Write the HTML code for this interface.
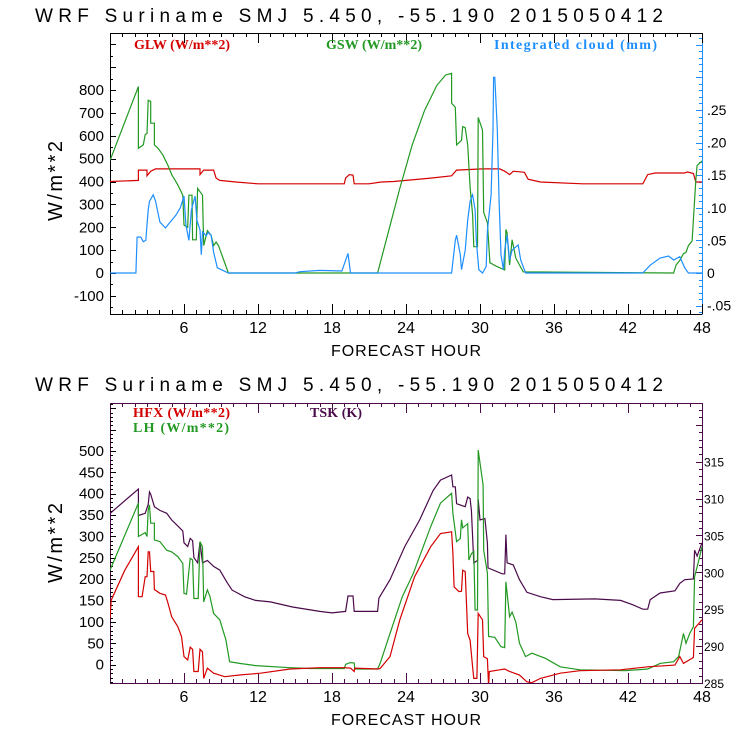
<!DOCTYPE html>
<html><head><meta charset="utf-8"><style>
html,body{margin:0;padding:0;background:#fff;}
svg{display:block;}
text{font-family:"Liberation Sans",sans-serif;}
.lg{font-family:"Liberation Serif",serif;font-weight:bold;font-size:14px;}
</style></head><body>
<svg id="c" width="740" height="740" xmlns="http://www.w3.org/2000/svg"></svg>
<script>
// ---- Top panel data (hours / values) ----
const gswHours=[0,2.3,2.3,2.7,2.85,3.0,3.1,3.3,3.3,3.6,3.6,3.9,4.3,4.7,5,5.5,5.9,6,6.3,6.4,6.65,6.7,7.0,7.1,7.5,7.6,7.9,8.2,8.4,8.6,8.8,9.6,21.7,22.5,23.5,24.5,25.5,26.5,27.2,27.7,27.7,28,28.1,28.5,28.6,28.8,29,29.2,29.4,29.5,29.8,29.85,30.2,30.3,30.6,30.8,31.3,32,32.1,32.2,32.4,32.6,32.9,33.5,45.7,45.9,46.2,46.5,46.7,46.9,47.2,47.5,47.6,48];
const gswValues=[492,815,545,560,605,610,755,750,655,655,560,545,515,470,430,385,340,210,200,340,340,145,145,370,340,120,185,165,120,135,120,0,0,165,370,560,710,820,865,873,742,725,560,580,640,635,560,375,255,115,115,680,625,265,220,45,30,13,190,175,35,145,65,5,0,35,55,85,90,120,140,405,470,490];
const glwHours=[0,2.3,2.3,3.0,3.0,3.3,3.7,7.3,7.3,7.6,8.4,8.6,8.9,10.2,12,19,19.1,19.4,19.7,19.8,21,22,23,26,27.7,28.1,30.2,31.6,32,32.4,32.7,33.6,33.9,34.9,38.3,43.2,43.6,44.2,46.6,46.8,47.3,47.5,48];
const glwValues=[400,405,450,450,425,445,455,455,430,450,450,415,405,398,390,390,415,430,428,390,390,398,400,415,425,450,455,455,445,430,445,440,410,398,390,390,430,437,437,442,435,398,398];
const cldHours=[0,2.1,2.2,2.5,2.7,2.9,3.1,3.2,3.5,3.7,4.05,4.5,4.7,5,5.35,5.7,6,6.15,6.4,6.6,6.7,6.9,7.05,7.3,7.4,7.5,7.8,7.95,8.2,8.4,8.7,9.6,15,15.4,17,18.8,19.3,19.5,27.7,28,28.1,28.4,28.5,28.8,29,29.2,29.4,29.6,29.7,29.9,30.2,30.5,30.6,30.9,31.05,31.1,31.2,31.4,31.55,31.7,31.9,32,32.2,32.4,32.6,32.9,33.1,33.3,33.7,43.2,43.8,44.6,45.3,45.7,46.2,46.6,46.9,48];
const cldValues=[0,0,.055,.055,.048,.05,.097,.11,.12,.11,.078,.069,.074,.081,.089,.1,.118,.074,.05,.097,.104,.118,.081,.066,.028,.063,.057,.062,.058,.032,.008,0,0,.002,.004,.003,.03,0,0,.05,.058,.028,.005,.035,.081,.11,.12,.097,.05,.005,0,.01,.065,.12,.22,.3,.3,.22,.11,.028,.005,.035,.058,.02,.035,.04,.043,.02,0,0,.012,.023,.026,.02,.025,.008,0,0];
// ---- Bottom panel data ----
const tskHours=[0,0.02,2.3,2.3,2.85,3.1,3.2,3.3,3.6,4.05,4.6,5,5.5,5.9,6,6.3,6.5,6.7,6.8,7.1,7.3,7.5,7.9,8.4,8.9,9.5,9.9,10.9,11.8,13,14.8,17,18,19.1,19.3,19.7,19.8,21.1,21.7,21.8,22.7,23.9,25.1,26.2,26.8,27.7,27.8,28.0,28.1,28.8,29,29.2,29.3,29.5,29.8,29.85,30,30.4,30.6,30.65,31.8,32,32.1,32.2,32.7,33.2,33.8,34.9,35.9,39.3,41.4,42.4,43.2,43.6,43.8,44.6,45.8,46.2,46.6,47.3,47.4,47.6,48];
const tskValues=[305.3,308,311.3,307.7,308,309.2,310.9,310.6,308.9,308.4,308,307.1,306.3,305.6,304,303.5,304.6,304.3,302,301.3,304.1,301.3,301.6,300.8,300.3,298.6,297.6,296.7,296.2,296,295.3,294.7,294.5,294.7,296.8,296.8,294.7,294.7,294.7,296.5,299,303.5,307.1,311.1,312.5,313.2,311.6,311.6,309.3,308.9,310.2,310,308.4,301.3,301.6,309.9,307.1,307.3,304,300.6,299.8,299.8,305.1,301.3,301,299,297.3,296.7,296.3,296.4,296.2,295.6,295,295,296.3,297.2,297.5,298.5,299,299.1,303,302.2,304];
const lhHours=[0,2.3,2.3,2.85,3.0,3.1,3.2,3.3,3.6,3.6,4.05,4.6,5,5.5,5.9,6,6.2,6.5,6.7,6.8,7.15,7.3,7.5,7.6,7.9,8.1,8.4,8.9,9.4,9.7,10.5,11.8,14.6,16.2,19,19.1,19.5,19.8,19.85,21.7,21.9,22.7,23.7,24.6,26,26.8,27.7,27.8,28.1,28.4,28.5,28.6,29,29.1,29.3,29.5,29.6,29.8,29.85,30.25,30.3,30.6,30.7,31.2,31.7,32,32.1,32.4,32.6,32.9,33.2,33.7,34.2,35.3,36.5,38.1,41.8,43.6,44.6,45.7,46.1,46.5,46.7,47,47.3,47.4,47.7,48];
const lhValues=[221,378,300,309,300,362,374,331,331,292,288,268,264,253,237,167,165,249,245,155,155,288,276,147,175,160,120,105,58,7,3,-2,-7,-9,-9,1,5,4,-10,-10,3,73,159,214,323,378,401,354,288,295,339,320,330,245,260,265,128,128,502,420,268,214,66,64,42,40,194,112,123,100,50,19,27,15,-5,-12,-14,-10,3,7,19,73,50,73,89,206,240,276];
const hfxHours=[0,0.1,1.2,2.3,2.3,2.6,2.85,3.0,3.1,3.2,3.3,3.55,3.6,4.05,4.5,4.7,5,5.5,5.8,6,6.3,6.5,6.7,6.8,7.15,7.3,7.5,7.6,7.9,8.4,9.3,10.5,12.2,14.6,17,19,19.5,19.8,19.85,21.7,21.9,22.7,23.5,24.7,26,26.8,27.7,27.8,27.9,28.3,28.5,28.6,28.8,29,29.2,29.4,29.5,29.75,29.85,30.2,30.3,30.6,30.7,30.75,31.6,32,32.4,33.2,33.8,34.2,34.9,36.5,38.1,41.4,43.6,45.8,46.2,46.5,47.2,47.3,47.4,48];
const hfxValues=[108,151,221,276,159,159,206,206,264,264,218,218,176,167,163,144,112,89,66,19,11,41,36,-16,-16,36,30,-32,-8,-20,-28,-24,-20,-10,-7,-7,-8,-16,-8,-10,-9,19,105,206,276,307,311,261,182,171,172,221,218,73,57,-5,-32,-32,120,105,19,14,-51,-16,-12,-10,-16,-24,-40,-42,-32,-20,-14,-12,-5,-1,19,3,15,17,85,105];
// tick labels
const topXTicks=[6,12,18,24,30,36,42,48];
const topLeftTicks=[-100,0,100,200,300,400,500,600,700,800];
const topRightTicks=[-0.05,0,0.05,0.10,0.15,0.20,0.25];
const topRightLabels=["-.05","0",".05",".10",".15",".20",".25"];
const botLeftTicks=[0,50,100,150,200,250,300,350,400,450,500];
const botRightTicks=[285,290,295,300,305,310,315];

const svg=document.getElementById('c');
const NS='http://www.w3.org/2000/svg';
function mk(tag,at,parent){const e=document.createElementNS(NS,tag);for(const k in at)e.setAttribute(k,at[k]);(parent||svg).appendChild(e);return e;}
const X0=110,X1=702;
function xs(h){return X0+(X1-X0)*h/48;}
function lin(d0,d1,p0,p1){return v=>p0+(v-d0)*(p1-p0)/(d1-d0);}
const T={top:33,bot:314};
const tyL=lin(0,800,273,90);
const tyR=lin(0,0.25,273,110);
const B={top:403,bot:683};
const byL=lin(0,500,664.7,451);
const byR=lin(285,315,683,461.7);

function title(y,name){const t=mk('text',{x:35,y:y,'font-size':19,'textLength':628,'lengthAdjust':'spacing',fill:'#000'});t.textContent='WRF  Suriname SMJ   5.450, -55.190  2015050412';}
title(22,'top-title');title(391,'bottom-title');

function line(x1,y1,x2,y2,c,parent){return mk('line',{x1,y1,x2,y2,stroke:c,'stroke-width':1,'shape-rendering':'crispEdges'},parent);}

function frame(P,leftCol,rightCol,name){
  const g=mk('g',{});
  line(X0,P.top+.5,X1,P.top+.5,leftCol,g);line(X0,P.bot+.5,X1,P.bot+.5,leftCol,g);
  line(X0+.5,P.top,X0+.5,P.bot,leftCol,g);line(X1+.5,P.top,X1+.5,P.bot+1,rightCol,g);
  for(let h=0;h<=48;h++){const x=Math.round(xs(h))+.5;const L=h%6==0?10:4;
    line(x,P.bot,x,P.bot-L,leftCol,g);line(x,P.top,x,P.top+L,leftCol,g);}
  return g;
}
function xlabels(P,name,yb){
  const g=mk('g',{});
  topXTicks.forEach(h=>{const t=mk('text',{x:xs(h),y:P.bot+19,'font-size':16,'text-anchor':'middle'},g);t.textContent=h;});
  const t=mk('text',{x:406,y:yb,'font-size':16,'text-anchor':'middle','textLength':150,'lengthAdjust':'spacing'},g);t.textContent='FORECAST HOUR';
}
function ylab(cy,name){const t=mk('text',{x:0,y:0,'font-size':20,'text-anchor':'middle',transform:`translate(62,${cy}) rotate(-90)`,'textLength':80,'lengthAdjust':'spacing'});t.textContent='W/m**2';}
function leftAxis(P,sc,step,minor,ticks,name,from,to){
  const g=mk('g',{});
  for(let v=from;v<=to;v+=minor){const y=sc(v);if(y<P.top||y>P.bot)continue;const yy=Math.round(y)+.5;line(X0,yy,X0+(v%step==0?6:3),yy,'#000',g);}
  ticks.forEach(v=>{const t=mk('text',{x:104,y:sc(v)+5,'font-size':15,'text-anchor':'end'},g);t.textContent=v;});
}
function rightAxis(P,sc,step,minor,ticks,labels,col,name,from,to,fs,lx){
  const g=mk('g',{});
  const n=Math.round((to-from)/minor);
  for(let i=0;i<=n;i++){const v=from+i*minor;const y=sc(v);if(y<P.top||y>P.bot+0.5)continue;const yy=Math.round(y)+.5;const maj=Math.abs((v/step)-Math.round(v/step))<1e-6;line(X1,yy,X1-(maj?6:3),yy,col,g);}
  ticks.forEach((v,i)=>{const t=mk('text',{x:lx,y:sc(v)+5,'font-size':fs,'text-anchor':'start'},g);t.textContent=labels[i];});
}
function series(hs,vs,sc,col,P,name,clip){
  const pts=hs.map((h,i)=>xs(h).toFixed(1)+','+sc(vs[i]).toFixed(1)).join(' ');
  const p=mk('polyline',{points:pts,fill:'none',stroke:col,'stroke-width':1.2,'clip-path':'url(#'+clip+')'});
  
}
const defs=mk('defs',{});
const c1=mk('clipPath',{id:'cp1'},defs);mk('rect',{x:X0,y:T.top,width:X1-X0+1,height:T.bot-T.top},c1);
const c2=mk('clipPath',{id:'cp2'},defs);mk('rect',{x:X0,y:B.top,width:X1-X0+1,height:B.bot-B.top},c2);

frame(T,'#000','#1e8fff','top-frame');
leftAxis(T,tyL,100,50,topLeftTicks,'top-left-axis',-150,1050);
rightAxis(T,tyR,0.05,0.01,topRightTicks,topRightLabels,'#1e8fff','top-right-axis',-0.06,0.37,14,707);
xlabels(T,'top-x-axis',356);
ylab(181,'top-y-axis-title');
series(glwHours,glwValues,tyL,'#d40000',T,'glw-line','cp1');
series(gswHours,gswValues,tyL,'#229922',T,'gsw-line','cp1');
series(cldHours,cldValues,tyR,'#1e8fff',T,'cloud-line','cp1');
function legend(x,y,txt,col,name,w){const t=mk('text',{x,y,fill:col,class:'lg',textLength:w,lengthAdjust:'spacing'});t.textContent=txt;}
legend(134,49,'GLW (W/m**2)','#d40000','legend-glw',96);
legend(326,49,'GSW (W/m**2)','#229922','legend-gsw',96);
legend(494,49,'Integrated cloud (mm)','#1e8fff','legend-cloud',163);

frame(B,'#4a0a4a','#4a0a4a','bottom-frame');
leftAxis(B,byL,50,10,botLeftTicks,'bottom-left-axis',-40,610);
rightAxis(B,byR,5,1,botRightTicks,botRightTicks.map(String),'#4a0a4a','bottom-right-axis',285,323,12,704);
xlabels(B,'bottom-x-axis',725);
ylab(543,'bottom-y-axis-title');
series(tskHours,tskValues,byR,'#4a0a4a',B,'tsk-line','cp2');
series(lhHours,lhValues,byL,'#229922',B,'lh-line','cp2');
series(hfxHours,hfxValues,byL,'#d40000',B,'hfx-line','cp2');
legend(133,417,'HFX (W/m**2)','#d40000','legend-hfx',97);
legend(133,432,'LH  (W/m**2)','#229922','legend-lh',96);
legend(310,417,'TSK (K)','#4a0a4a','legend-tsk',52);
</script>
</body></html>
